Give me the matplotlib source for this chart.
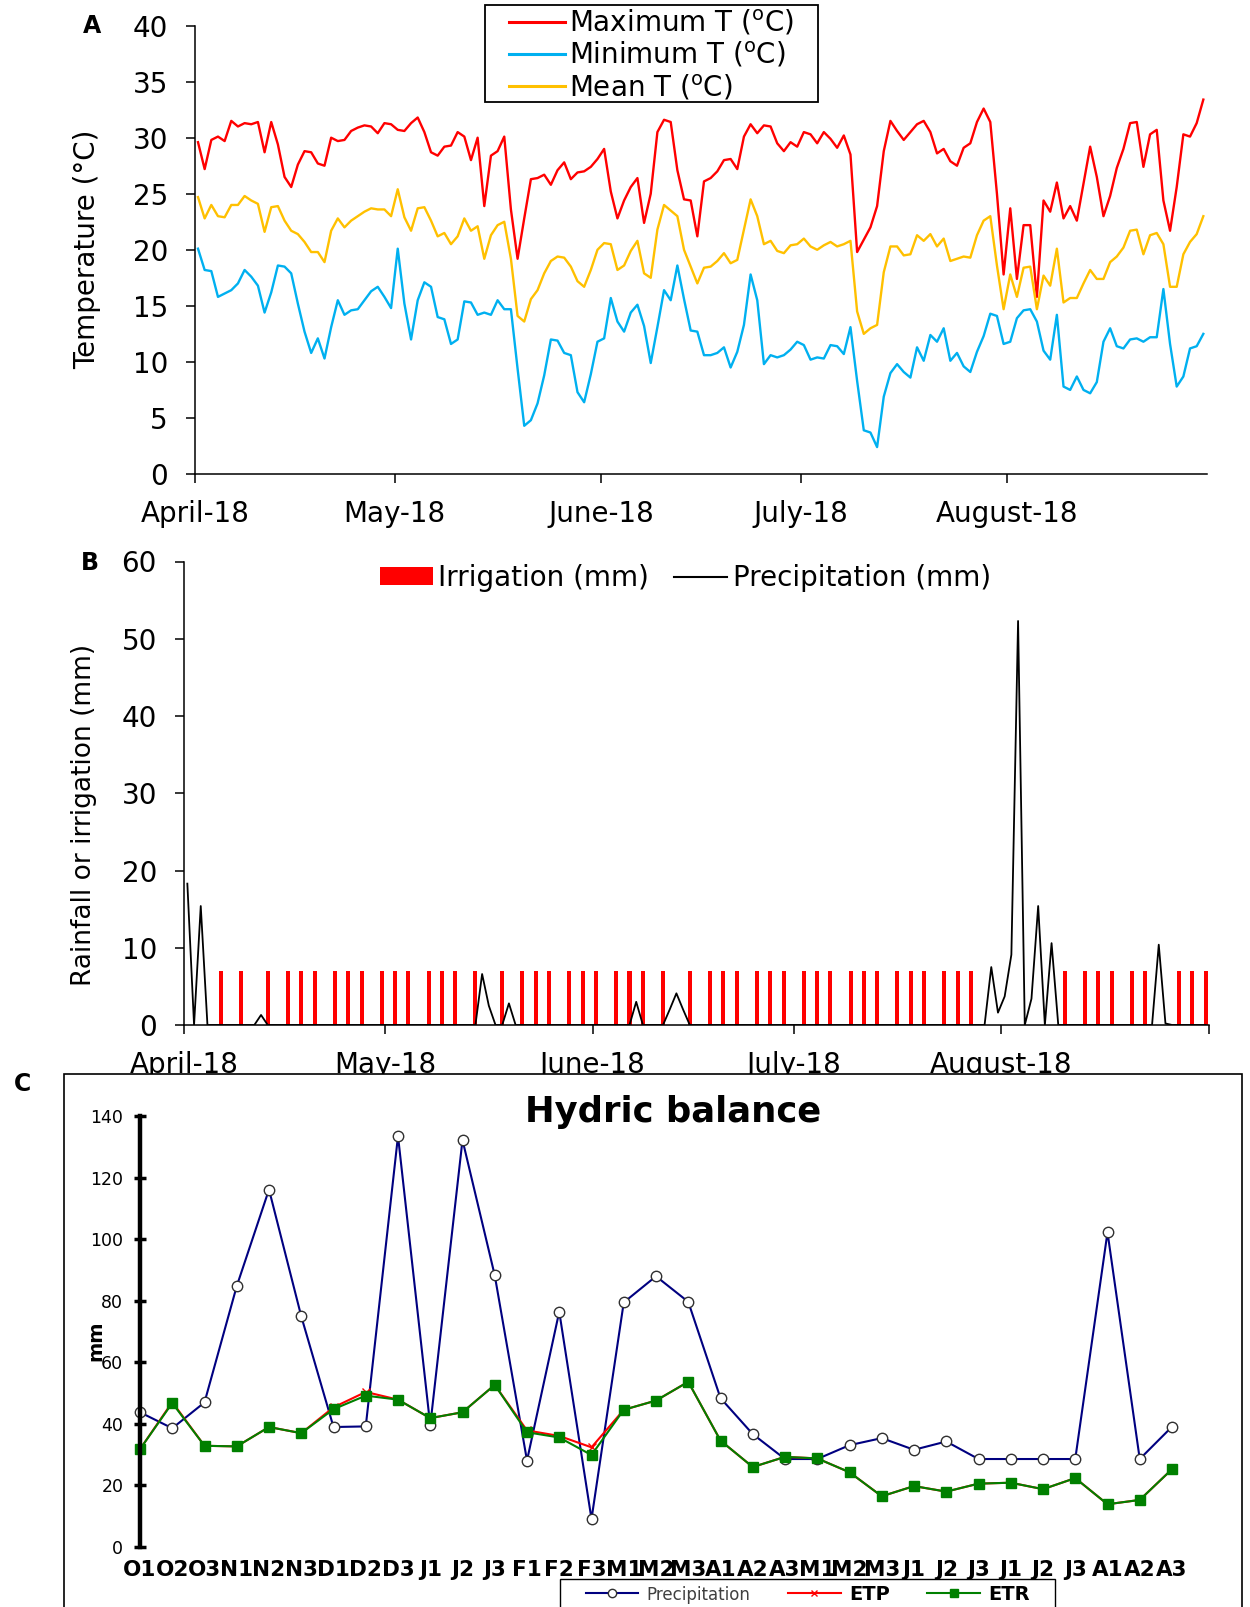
import matplotlib
matplotlib.use("Agg")
import matplotlib.pyplot as plt
from matplotlib.lines import Line2D
from matplotlib.patches import Rectangle
import numpy as np

plt.rcParams['font.family'] = ['DejaVu Sans']

W, H = 1250, 1607


def fx(px):
    return px / W


def fy(py):
    return 1 - py / H


# ---------------- Panel A: daily temperatures, 1 April - 30 August 2018 ----------------
tmax = [29.6, 27.2, 29.8, 30.1, 29.7, 31.5, 31.0, 31.3, 31.2, 31.4,
        28.7, 31.4, 29.4, 26.5, 25.6, 27.6, 28.8, 28.7, 27.7, 27.5,
        30.0, 29.7, 29.8, 30.6, 30.9, 31.1, 31.0, 30.4, 31.3, 31.2,
        30.7, 30.6, 31.3, 31.8, 30.5, 28.7, 28.4, 29.2, 29.3, 30.5,
        30.1, 28.0, 30.0, 23.9, 28.4, 28.8, 30.1, 23.6, 19.2, 22.8,
        26.3, 26.4, 26.7, 25.8, 27.1, 27.8, 26.3, 26.9, 27.0, 27.4,
        28.1, 29.0, 25.2, 22.8, 24.4, 25.6, 26.4, 22.4, 25.0, 30.5,
        31.6, 31.4, 27.1, 24.5, 24.4, 21.2, 26.1, 26.4, 27.0, 28.0,
        28.1, 27.2, 30.1, 31.2, 30.4, 31.1, 31.0, 29.5, 28.8, 29.6,
        29.2, 30.5, 30.3, 29.5, 30.5, 29.9, 29.1, 30.2, 28.5, 19.8,
        20.9, 22.0, 23.9, 28.8, 31.5, 30.6, 29.8, 30.5, 31.2, 31.5,
        30.5, 28.6, 29.0, 27.9, 27.5, 29.1, 29.5, 31.4, 32.6, 31.4,
        25.0, 17.8, 23.7, 17.4, 22.2, 22.2, 15.8, 24.4, 23.4, 26.0,
        22.8, 23.9, 22.6, 25.9, 29.2, 26.5, 23.0, 24.8, 27.3, 29.0,
        31.3, 31.4, 27.4, 30.3, 30.7, 24.4, 21.7, 25.6, 30.3, 30.1,
        31.3, 33.4]

tmin = [20.1, 18.2, 18.1, 15.8, 16.1, 16.4, 17.0, 18.2, 17.6, 16.8,
        14.4, 16.2, 18.6, 18.5, 17.9, 15.2, 12.7, 10.8, 12.1, 10.3,
        13.1, 15.5, 14.2, 14.6, 14.7, 15.5, 16.3, 16.7, 15.8, 14.8,
        20.1, 15.2, 12.0, 15.5, 17.1, 16.7, 14.0, 13.8, 11.6, 12.0,
        15.4, 15.3, 14.2, 14.4, 14.2, 15.5, 14.7, 14.7, 9.4, 4.3,
        4.8, 6.3, 8.8, 12.0, 11.9, 10.8, 10.6, 7.3, 6.4, 8.9,
        11.8, 12.1, 15.7, 13.6, 12.7, 14.4, 15.1, 13.2, 9.9, 13.1,
        16.4, 15.5, 18.6, 15.6, 12.8, 12.7, 10.6, 10.6, 10.8, 11.3,
        9.5, 10.9, 13.3, 17.8, 15.5, 9.8, 10.6, 10.4, 10.6, 11.1,
        11.8, 11.5, 10.2, 10.4, 10.3, 11.5, 11.4, 10.7, 13.1, 8.3,
        3.9, 3.7, 2.4, 6.9, 9.0, 9.8, 9.1, 8.6, 11.3, 10.1,
        12.4, 11.8, 13.0, 10.1, 10.8, 9.6, 9.1, 10.9, 12.3, 14.3,
        14.1, 11.6, 11.8, 13.9, 14.6, 14.7, 13.6, 11.0, 10.2, 14.2,
        7.8, 7.5, 8.7, 7.5, 7.2, 8.2, 11.8, 13.0, 11.4, 11.2,
        12.0, 12.1, 11.8, 12.2, 12.2, 16.5, 11.6, 7.8, 8.7, 11.2,
        11.4, 12.5]

tmean = [24.7, 22.8, 24.0, 23.0, 22.9, 24.0, 24.0, 24.8, 24.4, 24.1,
         21.6, 23.8, 23.9, 22.6, 21.7, 21.4, 20.7, 19.8, 19.8, 18.9,
         21.7, 22.8, 22.0, 22.6, 23.0, 23.4, 23.7, 23.6, 23.6, 23.0,
         25.4, 22.9, 21.7, 23.7, 23.8, 22.6, 21.2, 21.5, 20.5, 21.2,
         22.8, 21.7, 22.1, 19.2, 21.3, 22.2, 22.5, 19.2, 14.1, 13.6,
         15.6, 16.4, 17.9, 19.0, 19.4, 19.3, 18.5, 17.2, 16.7, 18.2,
         20.0, 20.6, 20.5, 18.2, 18.6, 19.9, 20.8, 17.9, 17.5, 21.8,
         24.0, 23.5, 23.0, 20.0, 18.5, 17.0, 18.4, 18.5, 19.0, 19.7,
         18.8, 19.1, 21.8, 24.5, 23.0, 20.5, 20.8, 19.9, 19.7, 20.4,
         20.5, 21.0, 20.3, 20.0, 20.4, 20.7, 20.3, 20.5, 20.8, 14.5,
         12.5, 13.0, 13.3, 18.0, 20.3, 20.3, 19.5, 19.6, 21.3, 20.8,
         21.4, 20.3, 21.0, 19.0, 19.2, 19.4, 19.3, 21.3, 22.6, 23.0,
         18.6, 14.7, 17.8, 15.8, 18.4, 18.5, 14.7, 17.7, 16.8, 20.1,
         15.3, 15.7, 15.7, 17.0, 18.2, 17.4, 17.4, 18.9, 19.4, 20.2,
         21.7, 21.8, 19.6, 21.3, 21.5, 20.5, 16.7, 16.7, 19.6, 20.7,
         21.4, 23.0]

month_ticks_a = [0, 30, 61, 91, 122]
month_labels = ['April-18', 'May-18', 'June-18', 'July-18', 'August-18']

# ---------------- Panel B: daily rainfall and irrigation, 1 April - 31 August 2018 ----------------
precip = [18.3, 0, 15.4, 0, 0, 0, 0, 0, 0, 0,
          0, 1.3, 0, 0, 0, 0, 0, 0, 0, 0,
          0, 0, 0, 0, 0, 0, 0, 0, 0, 0,
          0, 0, 0, 0, 0, 0, 0, 0, 0, 0,
          0, 0, 0, 0, 6.6, 2.5, 0, 0, 2.8, 0,
          0, 0, 0, 0, 0, 0, 0, 0, 0, 0,
          0, 0, 0, 0, 0, 0, 0, 3.0, 0, 0,
          0, 0, 2.0, 4.1, 2.0, 0, 0, 0, 0, 0,
          0, 0, 0, 0, 0, 0, 0, 0, 0, 0,
          0, 0, 0, 0, 0, 0, 0, 0, 0, 0,
          0, 0, 0, 0, 0, 0, 0, 0, 0, 0,
          0, 0, 0, 0, 0, 0, 0, 0, 0, 0,
          7.5, 1.6, 3.7, 9.1, 52.3, 0, 3.4, 15.4, 0, 10.6,
          0, 0, 0, 0, 0, 0, 0, 0, 0, 0,
          0, 0, 0, 0, 0, 10.4, 0.2, 0, 0, 0,
          0, 0, 0]

irrigation_days = [5, 8, 12, 15, 17, 19, 22, 24, 26, 29, 31, 33, 36, 38, 40,
                   43, 47, 50, 52, 54, 57, 59, 61, 64, 66, 68, 71, 75, 78, 80,
                   82, 85, 87, 89, 92, 94, 96, 99, 101, 103, 106, 108, 110,
                   113, 115, 117, 131, 134, 136, 138, 141, 143, 148, 150, 152]
irrigation_mm = [7.0] * len(irrigation_days)

month_ticks_b = [0, 30, 61, 91, 122, 153]
month_labels_b = month_labels + ['']

# ---------------- Panel C: hydric balance per dekad ----------------
dekads = ['O1', 'O2', 'O3', 'N1', 'N2', 'N3', 'D1', 'D2', 'D3', 'J1', 'J2',
          'J3', 'F1', 'F2', 'F3', 'M1', 'M2', 'M3', 'A1', 'A2', 'A3', 'M1',
          'M2', 'M3', 'J1', 'J2', 'J3', 'J1', 'J2', 'J3', 'A1', 'A2', 'A3']
precip_dekad = [43.7, 38.5, 46.9, 84.7, 116.1, 74.9, 38.9, 39.1, 133.5, 39.4,
                132.2, 88.2, 28.0, 76.4, 9.0, 79.4, 87.9, 79.6, 48.3, 36.6,
                28.5, 28.5, 33.0, 35.3, 31.5, 34.2, 28.5, 28.5, 28.5, 28.5,
                102.2, 28.5, 39.0]
etp_dekad = [31.7, 47.0, 32.8, 32.6, 38.9, 36.9, 45.3, 50.3, 47.8, 41.8,
             43.7, 52.6, 37.8, 36.0, 32.3, 44.5, 47.5, 53.6, 34.5, 25.9,
             29.2, 28.7, 24.2, 16.4, 19.7, 17.9, 20.5, 20.8, 18.7, 22.3,
             13.8, 15.2, 25.2]
etr_dekad = [31.7, 46.7, 32.8, 32.6, 38.9, 36.9, 44.7, 49.1, 47.8, 41.8,
             43.7, 52.6, 37.2, 35.5, 29.8, 44.5, 47.5, 53.6, 34.5, 25.9,
             29.2, 28.7, 24.2, 16.4, 19.7, 17.9, 20.5, 20.8, 18.7, 22.3,
             13.8, 15.2, 25.2]

RED = '#FF0000'
BLUE = '#00B0F0'
GOLD = '#FFC000'

fig = plt.figure(figsize=(W / 100, H / 100), dpi=100)

# ================= Panel A =================
axA = fig.add_axes([fx(195), fy(474), (1207 - 195) / W, (474 - 25.6) / H])
xa = np.arange(len(tmax)) + 0.45
lmax, = axA.plot(xa, tmax, color=RED, lw=1.7)
lmin, = axA.plot(xa, tmin, color=BLUE, lw=1.7)
lmean, = axA.plot(xa, tmean, color=GOLD, lw=1.7)
axA.set_xlim(0, 152)
axA.set_ylim(0, 40)
axA.set_yticks(range(0, 41, 5))
axA.set_xticks(month_ticks_a)
axA.set_xticklabels(month_labels)
for s in ('top', 'right'):
    axA.spines[s].set_visible(False)
for s in ('left', 'bottom'):
    axA.spines[s].set_linewidth(1.1)
axA.tick_params(axis='both', direction='out', length=6.5, width=1.1, labelsize=20)
axA.tick_params(axis='y', pad=13)
axA.tick_params(axis='x', pad=12.5)

# legend box drawn as its own frame, entries placed inside it
fig.add_artist(Rectangle((fx(485), fy(102)), (818 - 485) / W, (102 - 5) / H,
                         transform=fig.transFigure, facecolor='white',
                         edgecolor='black', linewidth=1.3, zorder=0.5))
legA = fig.legend([lmax, lmin, lmean],
                  ['Maximum T ($^{\\mathregular{o}}$C)',
                   'Minimum T ($^{\\mathregular{o}}$C)',
                   'Mean T ($^{\\mathregular{o}}$C)'],
                  loc='center left', bbox_to_anchor=(fx(509), fy(55)),
                  bbox_transform=fig.transFigure, fontsize=20, frameon=False,
                  borderpad=0, labelspacing=0.11, handlelength=2.0,
                  handletextpad=0.15, borderaxespad=0)
legA.set_zorder(6)
for ln in legA.get_lines():
    ln.set_linewidth(2.2)
fig.text(fx(87), fy(249), 'Temperature (°C)', rotation=90, fontsize=20,
         ha='center', va='center')
fig.text(fx(92), fy(26), 'A', fontsize=17, weight='bold', ha='center', va='center')

# ================= Panel B =================
axB = fig.add_axes([fx(184), fy(1025), (1209 - 184) / W, (1025 - 561.5) / H])
axB.bar(np.array(irrigation_days) + 0.5, irrigation_mm, width=0.6,
        color=RED, linewidth=0, zorder=2)
axB.plot(np.arange(len(precip)) + 0.5, precip, color='black', lw=1.3, zorder=3)
axB.set_xlim(0, 153)
axB.set_ylim(0, 60)
axB.set_yticks(range(0, 61, 10))
axB.set_xticks(month_ticks_b)
axB.set_xticklabels(month_labels_b)
for s in ('top', 'right'):
    axB.spines[s].set_visible(False)
for s in ('left', 'bottom'):
    axB.spines[s].set_linewidth(1.1)
axB.tick_params(axis='both', direction='out', length=6.5, width=1.1, labelsize=20)
axB.tick_params(axis='y', pad=13)
axB.tick_params(axis='x', pad=12.5)
handlesB = [Rectangle((0, 0), 1, 1, facecolor=RED, edgecolor='none'),
            Line2D([], [], color='black', lw=1.5)]
axB.legend(handlesB, ['Irrigation (mm)', 'Precipitation (mm)'], loc='center',
           bbox_to_anchor=(fx(685.5), fy(578)), bbox_transform=fig.transFigure,
           ncol=2, frameon=False, fontsize=20, handlelength=1.9, handleheight=0.6,
           handletextpad=0.2, columnspacing=0.9, borderaxespad=0, borderpad=0)
fig.text(fx(84), fy(815), 'Rainfall or irrigation (mm)', rotation=90,
         fontsize=19, ha='center', va='center')
fig.text(fx(90), fy(563.5), 'B', fontsize=17, weight='bold', ha='center', va='center')

# ================= Panel C =================
frame = Rectangle((fx(63.5), -0.01), (1242 - 63.5) / W, (1607 - 1074) / H + 0.01,
                  transform=fig.transFigure, facecolor='white', edgecolor='black',
                  linewidth=1.2, zorder=1)
fig.add_artist(frame)
legend_box = Rectangle((fx(559.6), -0.01), (1055 - 559.6) / W, (1607 - 1579) / H + 0.01,
                       transform=fig.transFigure, facecolor='white',
                       edgecolor='black', linewidth=1.0, zorder=1.5)
fig.add_artist(legend_box)

axC = fig.add_axes([fx(140), fy(1546.7), 33 * 32.25 / W, (1546.7 - 1116) / H])
axC.set_zorder(2)
axC.patch.set_alpha(0)
xc = np.arange(len(dekads))
axC.plot(xc, precip_dekad, color='#000080', lw=1.5, marker='o', ms=7.5,
         mfc='white', mec='#303030', mew=1.0, label='Precipitation', clip_on=False)
axC.plot(xc, etp_dekad, color=RED, lw=1.5, marker='x', ms=6, mec=RED,
         mew=1.0, label='ETP', clip_on=False)
axC.plot(xc, etr_dekad, color='#008000', lw=1.5, marker='s', ms=7.5,
         mfc='#008000', mec='#008000', label='ETR', clip_on=False)
axC.set_xlim(0, 33)
axC.set_ylim(0, 140)
axC.set_yticks(range(0, 141, 20))
axC.set_xticks(xc)
axC.set_xticklabels(dekads, fontweight='bold')
for s in ('top', 'right', 'bottom'):
    axC.spines[s].set_visible(False)
axC.spines['left'].set_linewidth(3.2)
axC.tick_params(axis='y', direction='inout', length=9, width=2.5, labelsize=12.5, pad=7.5)
axC.tick_params(axis='x', length=0, labelsize=15.5, pad=9.5)
legC = axC.legend(loc='center left', bbox_to_anchor=(fx(586), fy(1594)),
                  bbox_transform=fig.transFigure, ncol=3, fontsize=13,
                  frameon=False, borderaxespad=0, borderpad=0,
                  handlelength=2.9, handletextpad=0.45, columnspacing=2.1,
                  markerscale=0.8)
ltexts = legC.get_texts()
ltexts[0].set_color('#404040')
ltexts[0].set_fontsize(12)
for t in ltexts[1:]:
    t.set_fontweight('bold')
    t.set_fontsize(14)
fig.text(fx(673), fy(1112), 'Hydric balance', fontsize=25.5, weight='bold',
         ha='center', va='center', zorder=3)
fig.text(fx(96), fy(1341), 'mm', rotation=90, fontsize=14, weight='bold',
         ha='center', va='center', zorder=3)
fig.text(fx(22.5), fy(1084), 'C', fontsize=17, weight='bold', ha='center',
         va='center', zorder=3)

fig.savefig('out.png', dpi=100)
